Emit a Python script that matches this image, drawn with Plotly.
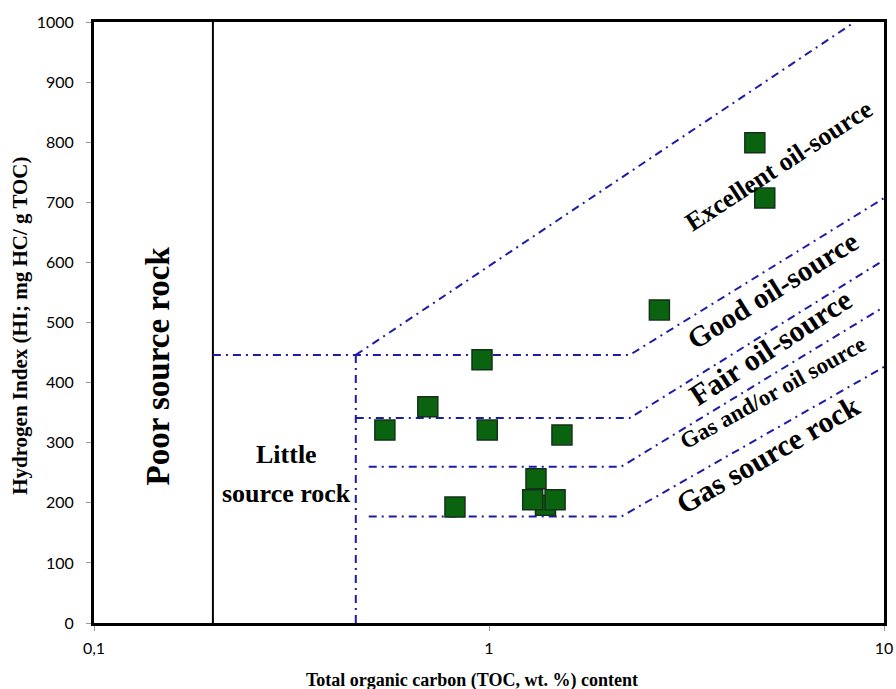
import math
import plotly.graph_objects as go

# ---- sample data (TOC wt.%, HI mg HC/g TOC) ----
toc = [1.39, 0.96, 0.70, 0.545, 0.99, 1.53, 1.315, 1.29, 1.47, 0.82, 4.71, 4.99, 2.70]
hi = [196, 438, 360, 321, 321, 313, 240, 205, 205, 193, 799, 707, 521]

# ---- classification boundaries ----
poor_x = [0.2, 0.2]
poor_y = [0, 1000]
little_x = [0.46, 0.46]
little_y = [0, 446]
excellent_x = [0.46, 8.43]
excellent_y = [446, 1000]
good_x = [0.2, 2.27, 10]
good_y = [446, 446, 707]
fair_x = [0.46, 2.27, 10]
fair_y = [341, 341, 604]
gasoil_x = [0.496, 2.16, 10]
gasoil_y = [260, 260, 526]
gas_x = [0.496, 2.16, 10]
gas_y = [177, 177, 426]

y_ticks = [0, 100, 200, 300, 400, 500, 600, 700, 800, 900, 1000]
x_ticks = [0.1, 1, 10]
x_ticktext = ["0,1", "1", "10"]

BLUE = "#1c1ca6"
DASH = "8px,5px,2px,5px"
SERIF = "Liberation Serif"

fig = go.Figure()

fig.add_trace(go.Scatter(x=poor_x, y=poor_y, mode="lines",
                         line=dict(color="black", width=2), hoverinfo="skip"))
for bx, by in [(little_x, little_y), (excellent_x, excellent_y), (good_x, good_y),
               (fair_x, fair_y), (gasoil_x, gasoil_y), (gas_x, gas_y)]:
    fig.add_trace(go.Scatter(x=bx, y=by, mode="lines",
                             line=dict(color=BLUE, width=2, dash=DASH), hoverinfo="skip"))

fig.add_trace(go.Scatter(x=toc, y=hi, mode="markers",
                         marker=dict(symbol="square", size=20, color="#0a640f",
                                     line=dict(color="#15301a", width=1.5))))

annots = [
    dict(x=0.1453, y=427, text="Poor source rock", textangle=-90, size=33),
    dict(x=0.307, y=280, text="Little", textangle=0, size=26),
    dict(x=0.307, y=216, text="source rock", textangle=0, size=26),
    dict(x=5.42, y=762, text="Excellent oil-source", textangle=-33, size=26),
    dict(x=5.23, y=554, text="Good oil-source", textangle=-32, size=29),
    dict(x=5.14, y=459, text="Fair oil-source", textangle=-33, size=30),
    dict(x=5.25, y=383, text="Gas and/or oil source", textangle=-29, size=23),
    dict(x=5.08, y=280, text="Gas source rock", textangle=-30, size=30),
]
for a in annots:
    fig.add_annotation(x=math.log10(a["x"]), y=a["y"], xref="x", yref="y",
                       text="<b>" + a["text"] + "</b>",
                       textangle=a["textangle"], showarrow=False,
                       font=dict(family=SERIF, size=a["size"], color="black"))

fig.add_annotation(x=0.478, y=-0.095, xref="paper", yref="paper",
                   xanchor="center", yanchor="middle",
                   text="<b>Total organic carbon (TOC, wt. %) content</b>", showarrow=False,
                   font=dict(family=SERIF, size=18, color="black"))
fig.add_annotation(x=-0.094, y=0.494, xref="paper", yref="paper", textangle=-90,
                   xanchor="center", yanchor="middle",
                   text="<b>Hydrogen Index (HI; mg HC/ g TOC)</b>", showarrow=False,
                   font=dict(family=SERIF, size=21, color="black"))

fig.update_layout(
    width=896, height=689,
    margin=dict(l=94, r=12, t=22, b=66, autoexpand=False),
    paper_bgcolor="white", plot_bgcolor="white",
    showlegend=False,
    font=dict(family="Lato", size=16, color="black"),
    xaxis=dict(type="log", range=[-1, 1], tickvals=x_ticks, ticktext=x_ticktext,
               showgrid=False, zeroline=False, showline=True, linecolor="black",
               linewidth=3, mirror=True, ticks="outside", ticklen=5, tickcolor="#999999",
               ticklabelstandoff=4, ticklabeloverflow="allow", automargin=False,
               tickfont=dict(family="Lato", size=16)),
    yaxis=dict(range=[0, 1000], tickvals=y_ticks, showgrid=False, zeroline=False,
               showline=True, linecolor="black", linewidth=3, mirror=True,
               ticks="outside", ticklen=5, tickcolor="#999999", automargin=False,
               ticklabelstandoff=9, tickfont=dict(family="Lato", size=16)),
)

fig.write_html("out.html")
